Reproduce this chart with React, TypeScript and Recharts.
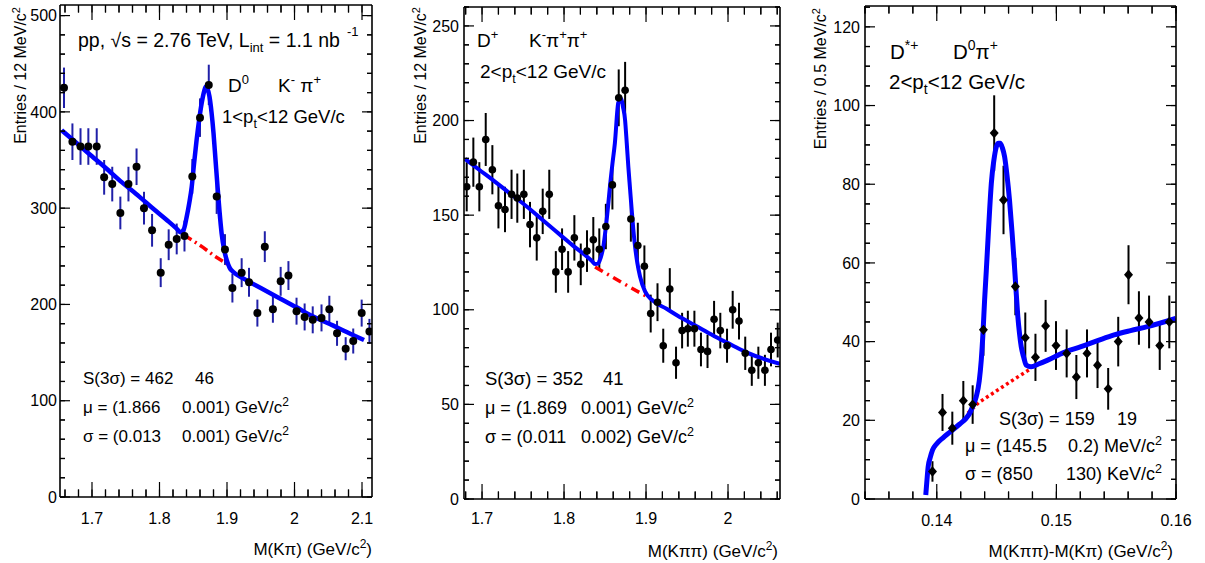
import React from 'react';
import { ComposedChart, XAxis, YAxis, Scatter, Line, ErrorBar } from 'recharts';

const FONT = '"Liberation Sans", Arial, Helvetica, sans-serif';

// ---------- Panel 1: D0 -> K- pi+ ----------
const d0Mass = [1.6585, 1.671, 1.683, 1.6946, 1.707, 1.718, 1.730, 1.742, 1.754, 1.766, 1.777, 1.789, 1.8018, 1.8136, 1.8255, 1.837, 1.8486, 1.860, 1.873, 1.8847, 1.897, 1.908, 1.9217, 1.9326, 1.945, 1.956, 1.968, 1.9795, 1.991, 2.003, 2.015, 2.027, 2.040, 2.0516, 2.063, 2.0758, 2.087, 2.0995, 2.111];
const d0Counts = [425, 369, 364, 364, 364, 332, 325, 295, 325, 343, 300, 277, 233, 262, 268, 271, 333, 394, 428, 312, 257, 217, 233, 223, 191, 260, 195, 224, 230, 193, 187, 184, 186, 195, 170, 154, 162, 191, 172];
const d0Errors = [21, 19, 19, 19, 19, 18, 18, 17, 18, 19, 17, 17, 15, 16, 16, 16, 18, 20, 21, 18, 16, 15, 15, 15, 14, 16, 14, 15, 15, 14, 14, 14, 14, 14, 13, 12, 13, 14, 13];
const d0FitMass = [1.655, 1.675, 1.6946, 1.72, 1.744, 1.77, 1.793, 1.812, 1.825, 1.831, 1.836, 1.840, 1.844, 1.8477, 1.851, 1.855, 1.859, 1.8625, 1.866, 1.8684, 1.871, 1.874, 1.877, 1.880, 1.883, 1.886, 1.889, 1.892, 1.896, 1.8996, 1.904, 1.909, 1.924, 1.95, 1.9736, 2.003, 2.023, 2.0575, 2.0723, 2.103];
const d0FitValues = [381, 369, 357, 342, 327, 312, 298, 287, 279, 275, 278, 290, 305, 322, 345, 371, 393, 409, 421, 426, 424, 416, 400, 378, 350, 322, 296, 274, 256, 246, 238, 234, 227, 217, 208, 197, 189, 178, 173, 163];
const d0BkgMass = [1.836, 1.85, 1.865, 1.88, 1.9];
const d0BkgValues = [272, 266, 259, 251, 242];
const d0XTicks = [1.7, 1.8, 1.9, 2, 2.1];
const d0YTicks = [0, 100, 200, 300, 400, 500];

// ---------- Panel 2: D+ -> K- pi+ pi+ ----------
const dpMass = [1.6813, 1.6894, 1.6967, 1.7045, 1.7126, 1.720, 1.728, 1.736, 1.743, 1.751, 1.7585, 1.7667, 1.774, 1.782, 1.790, 1.7976, 1.805, 1.8126, 1.8204, 1.828, 1.8357, 1.843, 1.851, 1.859, 1.8667, 1.8745, 1.8815, 1.890, 1.898, 1.9057, 1.914, 1.921, 1.929, 1.9366, 1.944, 1.951, 1.959, 1.967, 1.975, 1.983, 1.9906, 1.9988, 2.0057, 2.0134, 2.021, 2.029, 2.037, 2.045, 2.0524, 2.0606];
const dpCounts = [165, 178, 165, 190, 174, 155, 153, 161, 159, 161, 145, 138, 152, 161, 120, 132, 120, 138, 124, 131, 137, 132, 144, 166, 212, 216, 148, 134, 123, 98, 104, 81, 111, 72, 89, 90, 90, 79, 78, 95, 89, 81, 100, 94, 77, 68, 72, 68, 79, 84];
const dpErrors = [13, 13, 13, 14, 13, 12, 12, 13, 13, 13, 12, 12, 12, 13, 11, 11, 11, 12, 11, 11, 12, 11, 12, 13, 15, 15, 12, 12, 11, 10, 10, 9, 11, 8.5, 9.4, 9.5, 9.5, 8.9, 8.8, 9.7, 9.4, 9, 10, 9.7, 8.8, 8.2, 8.5, 8.2, 8.9, 9.2];
const dpFitMass = [1.6793, 1.6965, 1.7138, 1.734, 1.7545, 1.775, 1.795, 1.812, 1.8277, 1.834, 1.8378, 1.8415, 1.8439, 1.846, 1.848, 1.850, 1.852, 1.854, 1.856, 1.859, 1.862, 1.8662, 1.8695, 1.872, 1.8744, 1.8765, 1.8784, 1.8805, 1.8825, 1.8845, 1.8866, 1.8895, 1.8927, 1.8988, 1.907, 1.925, 1.9435, 1.964, 1.984, 2.0045, 2.0248, 2.0634];
const dpFitValues = [179.7, 174, 168.4, 161.5, 154.6, 147, 139.7, 133.5, 128.2, 125.8, 124.2, 124.4, 126.5, 129.5, 133.5, 140, 147.6, 156, 165.2, 177, 188, 209.4, 211.5, 207, 200.5, 188, 175.8, 164, 152.9, 142.5, 133.5, 124.5, 117.6, 109.7, 105.3, 100.5, 95.6, 90.8, 85.9, 81.4, 77.1, 71.4];
const dpBkgMass = [1.8378, 1.86, 1.88, 1.901];
const dpBkgValues = [122.6, 117, 112, 107];
const dpXTicks = [1.7, 1.8, 1.9, 2];
const dpYTicks = [0, 50, 100, 150, 200, 250];

// ---------- Panel 3: D*+ -> D0 pi+ ----------
const dsDeltaM = [0.13964, 0.14048, 0.1413, 0.14222, 0.1430, 0.1439, 0.1448, 0.14558, 0.14657, 0.1474, 0.14825, 0.1491, 0.14997, 0.15086, 0.15167, 0.15256, 0.15344, 0.15433, 0.15517, 0.15603, 0.1569, 0.15775, 0.15864, 0.15944];
const dsCounts = [7, 22, 18, 25, 24, 43, 93, 76, 54, 41, 36, 44, 39, 37, 31, 37, 34, 28, 40, 57, 46, 45, 39, 45];
const dsErrors = [2.6, 4.7, 4.2, 5, 4.9, 6.6, 9.6, 8.7, 7.3, 6.4, 6, 6.6, 6.2, 6.1, 5.6, 6.1, 5.8, 5.3, 6.3, 7.5, 6.8, 6.7, 6.2, 6.7];
const dsFitDeltaM = [0.13908, 0.13918, 0.13928, 0.13945, 0.13965, 0.13998, 0.1405, 0.1411, 0.1419, 0.14245, 0.14275, 0.1430, 0.1433, 0.14355, 0.14372, 0.14386, 0.144, 0.14414, 0.14428, 0.14442, 0.14456, 0.14477, 0.14498, 0.14515, 0.1453, 0.14548, 0.14567, 0.14588, 0.14608, 0.1463, 0.1465, 0.14665, 0.14678, 0.14692, 0.14706, 0.14727, 0.14748, 0.14789, 0.1485, 0.14928, 0.1506, 0.15206, 0.1535, 0.15483, 0.1562, 0.1576, 0.15998];
const dsFitValues = [1.0, 4.8, 8.2, 10.5, 12.5, 14, 15.5, 17, 19, 20.5, 21.8, 23.5, 26, 30, 35.3, 42, 50.6, 58, 65.8, 73.5, 80.2, 86, 89.5, 90.4, 90.4, 89.3, 87, 82, 76, 67.5, 59, 52, 46.3, 42, 38.7, 36, 34, 33.6, 34.3, 35.3, 37.2, 38.7, 40.3, 41.7, 42.8, 43.8, 45.9];
const dsBkgDeltaM = [0.1426, 0.1435, 0.145, 0.1465, 0.1478];
const dsBkgValues = [21.8, 24.5, 27.5, 30.5, 33];
const dsXTicks = [0.14, 0.15, 0.16];
const dsYTicks = [0, 20, 40, 60, 80, 100, 120];

function range(a: number, b: number, step: number): number[] {
  const n = Math.round((b - a) / step);
  const out: number[] = [];
  for (let i = 0; i <= n; i++) out.push(+(a + i * step).toFixed(6));
  return out;
}
const mergeTicks = (major: number[], minor: number[], lo: number, hi: number) =>
  Array.from(new Set([...major, ...minor].map((v) => +v.toFixed(6))))
    .filter((v) => v >= lo && v <= hi)
    .sort((a, b) => a - b);
const isIn = (list: number[], v: number) => list.some((m) => Math.abs(m - v) < 1e-7);

type Pt = { x: number; y: number; err?: number };
const zipPts = (xs: number[], ys: number[], es?: number[]): Pt[] =>
  xs.map((x, i) => (es ? { x, y: ys[i], err: es[i] } : { x, y: ys[i] }));

type PanelProps = {
  width: number;
  margin: { top: number; right: number; bottom: number; left: number };
  yAxisWidth: number;
  yLabelMargin: number;
  xLabelMargin: number;
  xDomain: [number, number];
  yDomain: [number, number];
  xMajor: number[];
  xMinor: number[];
  yMajor: number[];
  yMinor: number[];
  points: Pt[];
  fit: Pt[];
  bkg: Pt[];
  errColor: string;
  marker: 'circle' | 'diamond';
  markerSize: number;
  bkgDash: string;
  fitWidth: number;
};

const HEIGHT = 563;
const X_AXIS_H = 30;
const X_MINOR = 7.5;
const Y_MINOR = 5;
const frame = { stroke: '#000', strokeWidth: 1.6 };
const tickLn = { stroke: '#000', strokeWidth: 1.2 };
const emptyTick = () => <g />;

function Panel(p: PanelProps) {
  const shape = (props: any) => {
    const { cx, cy } = props;
    if (cx == null || cy == null) return <g />;
    if (p.marker === 'circle') return <circle cx={cx} cy={cy} r={p.markerSize} fill="#000" />;
    const w = p.markerSize;
    const h = p.markerSize * 1.15;
    return <polygon points={`${cx},${cy - h} ${cx + w},${cy} ${cx},${cy + h} ${cx - w},${cy}`} fill="#000" />;
  };
  const common = { type: 'number' as const, allowDataOverflow: true, interval: 0 as const };
  const plotW = p.width - p.yAxisWidth - p.margin.right - p.margin.left;
  const plotH = HEIGHT - p.margin.top - p.margin.bottom - X_AXIS_H;
  const xTicks = mergeTicks(p.xMajor, p.xMinor, p.xDomain[0], p.xDomain[1]);
  const yTicks = mergeTicks(p.yMajor, p.yMinor, p.yDomain[0], p.yDomain[1]);

  // X tick: label (major only) + long inward marks for majors on bottom and top edges
  const XTick = (props: any) => {
    const { x, y, payload } = props;
    const v = payload?.value;
    const major = isIn(p.xMajor, v);
    const len = major ? 15 : X_MINOR;
    const bottom = y - p.xLabelMargin;
    const top = bottom - plotH;
    return (
      <g>
        <line x1={x} x2={x} y1={bottom} y2={bottom - len} stroke="#000" strokeWidth={1.2} />
        <line x1={x} x2={x} y1={top} y2={top + len} stroke="#000" strokeWidth={1.2} />
        {major && (
          <text x={x} y={y} dy="0.71em" textAnchor="middle" fontSize={16} fontFamily={FONT} fill="#000">{String(v)}</text>
        )}
      </g>
    );
  };
  const YTick = (props: any) => {
    const { x, y, payload } = props;
    const v = payload?.value;
    const major = isIn(p.yMajor, v);
    const len = major ? 10 : Y_MINOR;
    const left = x + p.yLabelMargin;
    const right = left + plotW;
    return (
      <g>
        <line x1={left} x2={left + len} y1={y} y2={y} stroke="#000" strokeWidth={1.2} />
        <line x1={right} x2={right - len} y1={y} y2={y} stroke="#000" strokeWidth={1.2} />
        {major && (
          <text x={x} y={y} dy="0.355em" textAnchor="end" fontSize={16} fontFamily={FONT} fill="#000">{String(v)}</text>
        )}
      </g>
    );
  };

  return (
    <ComposedChart width={p.width} height={HEIGHT} margin={p.margin} data={p.points}>
      <XAxis xAxisId="x" dataKey="x" {...common} domain={p.xDomain} ticks={xTicks}
        tickLine={tickLn} axisLine={frame} tickSize={-X_MINOR} tickMargin={p.xLabelMargin + X_MINOR} height={X_AXIS_H} tick={XTick} />
      <XAxis xAxisId="xt" orientation="top" dataKey="x" {...common} domain={p.xDomain} ticks={xTicks} mirror height={0.01}
        tick={emptyTick} tickLine={tickLn} tickSize={X_MINOR} axisLine={frame} />
      <YAxis yAxisId="y" dataKey="y" {...common} domain={p.yDomain} ticks={yTicks} width={p.yAxisWidth}
        tickLine={tickLn} axisLine={frame} tickSize={-Y_MINOR} tickMargin={p.yLabelMargin + Y_MINOR} tick={YTick} />
      <YAxis yAxisId="yr" orientation="right" dataKey="y" {...common} domain={p.yDomain} ticks={yTicks} mirror width={0.01}
        tick={emptyTick} tickLine={tickLn} tickSize={Y_MINOR} axisLine={frame} />
      <Line xAxisId="xt" yAxisId="yr" data={p.points} dataKey="y" stroke="none" strokeWidth={0} dot={false} activeDot={false}
        isAnimationActive={false} legendType="none" />
      <Scatter xAxisId="x" yAxisId="y" data={p.points} dataKey="y" shape={shape} isAnimationActive={false}>
        <ErrorBar dataKey="err" direction="y" width={0} stroke={p.errColor} strokeWidth={2} isAnimationActive={false} />
      </Scatter>
      <Line xAxisId="x" yAxisId="y" data={p.bkg} dataKey="y" type="linear" stroke="#ff0000" strokeWidth={3.5}
        strokeDasharray={p.bkgDash} dot={false} activeDot={false} isAnimationActive={false} />
      <Line xAxisId="x" yAxisId="y" data={p.fit} dataKey="y" type="monotone" stroke="#0000ff" strokeWidth={p.fitWidth}
        dot={false} activeDot={false} isAnimationActive={false} />
    </ComposedChart>
  );
}

const Sup = ({ children, dy = -7, size = 12 }: { children: React.ReactNode; dy?: number; size?: number }) => (
  <tspan dy={dy} fontSize={size}>{children}</tspan>
);

function Annotations() {
  return (
    <svg width={1205} height={563} style={{ position: 'absolute', left: 0, top: 0, pointerEvents: 'none' }}
      fontFamily={FONT} fill="#000">
      {/* Panel 1 */}
      <text x={26} y={7} transform="rotate(-90 26 7)" textAnchor="end" fontSize={16}>
        Entries / 12 MeV/c<Sup dy={-6} size={11}>2</Sup>
      </text>
      <text x={372} y={555} textAnchor="end" fontSize={17}>
        M(Kπ) (GeV/c<Sup dy={-7} size={12}>2</Sup><tspan dy={7}>)</tspan>
      </text>
      <text x={78} y={47} fontSize={19.5}>
        pp, √s = 2.76 TeV, L<tspan dy={5} fontSize={13}>int</tspan><tspan dy={-5}> = 1.1 nb</tspan>
        <tspan x={347} dy={-11} fontSize={13}>-1</tspan>
      </text>
      <text x={228} y={92} fontSize={19}>
        D<Sup dy={-8} size={13}>0</Sup><tspan x={278} dy={8}>K</tspan><Sup dy={-8} size={13}>-</Sup>
        <tspan dy={8}> π</tspan><Sup dy={-8} size={13}>+</Sup>
      </text>
      <text x={222} y={123} fontSize={18.5}>
        {'1<p'}<tspan dy={5} fontSize={12.5}>t</tspan><tspan dy={-5}>{'<12 GeV/c'}</tspan>
      </text>
      <text x={83} y={384} fontSize={17}>S(3σ) = 462<tspan x={195}>46</tspan></text>
      <text x={83} y={413} fontSize={17}>μ = (1.866<tspan x={182}>0.001) GeV/c</tspan><Sup dy={-7} size={12}>2</Sup></text>
      <text x={83} y={442} fontSize={17}>σ = (0.013<tspan x={182}>0.001) GeV/c</tspan><Sup dy={-7} size={12}>2</Sup></text>

      {/* Panel 2 */}
      <text x={426} y={7} transform="rotate(-90 426 7)" textAnchor="end" fontSize={16}>
        Entries / 12 MeV/c<Sup dy={-6} size={11}>2</Sup>
      </text>
      <text x={778} y={557} textAnchor="end" fontSize={17}>
        M(Kππ) (GeV/c<Sup dy={-7} size={12}>2</Sup><tspan dy={7}>)</tspan>
      </text>
      <text x={477} y={47} fontSize={19}>
        D<Sup dy={-8} size={13}>+</Sup><tspan x={529} dy={8}>K</tspan><Sup dy={-8} size={13}>-</Sup>
        <tspan dy={8}>π</tspan><Sup dy={-8} size={13}>+</Sup><tspan dy={8}>π</tspan><Sup dy={-8} size={13}>+</Sup>
      </text>
      <text x={480} y={78} fontSize={19}>
        {'2<p'}<tspan dy={5} fontSize={12.5}>t</tspan><tspan dy={-5}>{'<12 GeV/c'}</tspan>
      </text>
      <text x={485} y={385} fontSize={18.5}>S(3σ) = 352<tspan x={603}>41</tspan></text>
      <text x={485} y={414} fontSize={18}>μ = (1.869<tspan x={581}>0.001) GeV/c</tspan><Sup dy={-7} size={12.5}>2</Sup></text>
      <text x={485} y={443} fontSize={18}>σ = (0.011<tspan x={581}>0.002) GeV/c</tspan><Sup dy={-7} size={12.5}>2</Sup></text>

      {/* Panel 3 */}
      <text x={826} y={8} transform="rotate(-90 826 8)" textAnchor="end" fontSize={16}>
        Entries / 0.5 MeV/c<Sup dy={-6} size={11}>2</Sup>
      </text>
      <text x={1173} y={557} textAnchor="end" fontSize={17}>
        M(Kππ)-M(Kπ) (GeV/c<Sup dy={-7} size={12}>2</Sup><tspan dy={7}>)</tspan>
      </text>
      <text x={890} y={59} fontSize={20.5}>
        D<Sup dy={-9} size={14}>*+</Sup><tspan x={953} dy={9}>D</tspan><Sup dy={-9} size={14}>0</Sup>
        <tspan dy={9}>π</tspan><Sup dy={-9} size={14}>+</Sup>
      </text>
      <text x={889} y={89} fontSize={20.5}>
        {'2<p'}<tspan dy={5} fontSize={14}>t</tspan><tspan dy={-5}>{'<12 GeV/c'}</tspan>
      </text>
      <text x={999} y={425} fontSize={18}>S(3σ) = 159<tspan x={1117}>19</tspan></text>
      <text x={965} y={452} fontSize={18}>μ = (145.5<tspan x={1068}>0.2) MeV/c</tspan><Sup dy={-7} size={12.5}>2</Sup></text>
      <text x={965} y={480} fontSize={18}>σ = (850<tspan x={1066}>130) KeV/c</tspan><Sup dy={-7} size={12.5}>2</Sup></text>
    </svg>
  );
}

export default function App() {
  const d0Points = zipPts(d0Mass, d0Counts, d0Errors);
  const d0Fit = zipPts(d0FitMass, d0FitValues);
  const d0Bkg = zipPts(d0BkgMass, d0BkgValues);
  const dpPoints = zipPts(dpMass, dpCounts, dpErrors);
  const dpFit = zipPts(dpFitMass, dpFitValues);
  const dpBkg = zipPts(dpBkgMass, dpBkgValues);
  const dsPoints = zipPts(dsDeltaM, dsCounts, dsErrors);
  const dsFit = zipPts(dsFitDeltaM, dsFitValues);
  const dsBkg = zipPts(dsBkgDeltaM, dsBkgValues);

  return (
    <div style={{ position: 'absolute', left: 0, top: 0, width: 1205, height: 563, background: '#fff', overflow: 'hidden', fontFamily: FONT }}>
      <div style={{ position: 'absolute', left: 0, top: 0 }}>
        <Panel width={400} margin={{ top: 5, right: 28, bottom: 36, left: 0 }} yAxisWidth={60} yLabelMargin={3} xLabelMargin={16}
          xDomain={[1.6526, 2.1148]} yDomain={[0, 511]}
          xMajor={d0XTicks} xMinor={range(1.66, 2.1, 0.02)} yMajor={d0YTicks} yMinor={range(0, 500, 20)}
          points={d0Points} fit={d0Fit} bkg={d0Bkg} errColor="#2020a8" marker="circle" markerSize={4}
          bkgDash="9 4 2 4" fitWidth={4.5} />
      </div>
      <div style={{ position: 'absolute', left: 400, top: 0 }}>
        <Panel width={400} margin={{ top: 7, right: 20, bottom: 34, left: 0 }} yAxisWidth={64} yLabelMargin={5} xLabelMargin={14}
          xDomain={[1.678, 2.0634]} yDomain={[0, 260]}
          xMajor={dpXTicks} xMinor={range(1.68, 2.06, 0.02)} yMajor={dpYTicks} yMinor={range(0, 260, 10)}
          points={dpPoints} fit={dpFit} bkg={dpBkg} errColor="#000" marker="circle" markerSize={3.8}
          bkgDash="9 5 2 5" fitWidth={4} />
      </div>
      <div style={{ position: 'absolute', left: 800, top: 0 }}>
        <Panel width={405} margin={{ top: 6, right: 29, bottom: 34, left: 0 }} yAxisWidth={65} yLabelMargin={5} xLabelMargin={16}
          xDomain={[0.134, 0.16]} yDomain={[0, 125.3]}
          xMajor={dsXTicks} xMinor={range(0.134, 0.16, 0.002)} yMajor={dsYTicks} yMinor={range(0, 125, 5)}
          points={dsPoints} fit={dsFit} bkg={dsBkg} errColor="#000" marker="diamond" markerSize={4.5}
          bkgDash="3 3" fitWidth={5} />
      </div>
      <Annotations />
    </div>
  );
}
